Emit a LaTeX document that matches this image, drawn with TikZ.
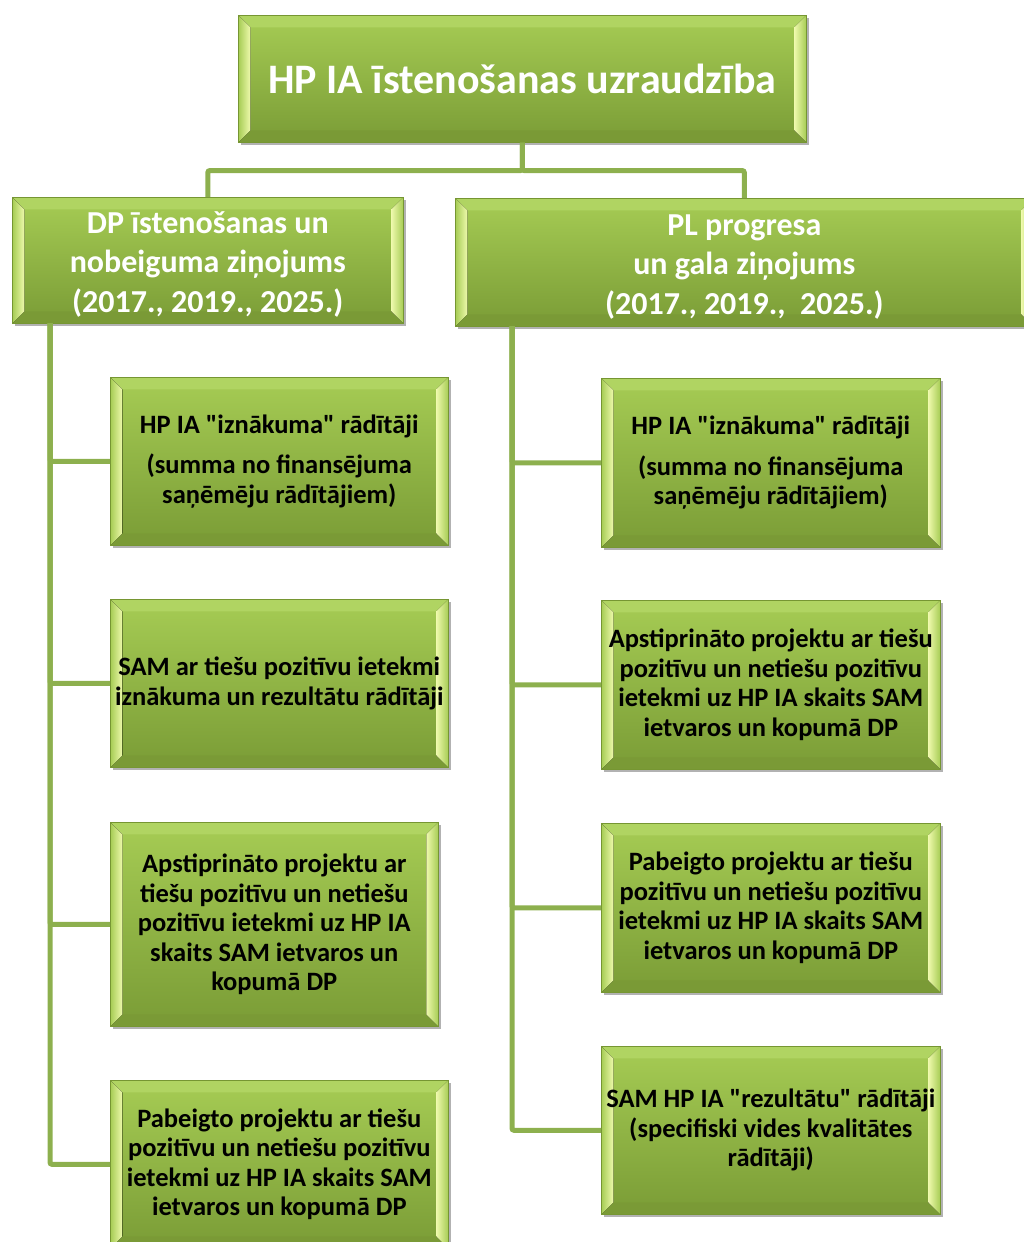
\documentclass[tikz,border=0pt]{standalone}
\usepackage{fontspec}
\setmainfont{Carlito}
\usetikzlibrary{calc,shadows}

\definecolor{boxtop}{RGB}{166,204,84}
\definecolor{boxbot}{RGB}{122,156,54}
\definecolor{boxedge}{RGB}{118,150,50}
\definecolor{bevellight}{RGB}{238,249,172}
\definecolor{beveltop}{RGB}{176,212,98}
\definecolor{bevelbot}{RGB}{122,154,54}
\definecolor{connline}{RGB}{141,176,78}

\tikzset{
	bevel/.style={path picture={
		\path (path picture bounding box.north west) coordinate (pa)
			(path picture bounding box.south east) coordinate (pb);
		\fill[beveltop] (pa) -- (pa-|pb) -- ($(pa-|pb)+(-#1,-#1)$) -- ($(pa)+(#1,-#1)$) -- cycle;
		\fill[bevelbot] (pa|-pb) -- (pb) -- ($(pb)+(-#1,#1)$) -- ($(pa|-pb)+(#1,#1)$) -- cycle;
		\fill[left color=boxtop, right color=bevellight] (pa) -- ($(pa)+(#1,-#1)$) -- ($(pa|-pb)+(#1,#1)$) -- (pa|-pb) -- cycle;
		\fill[left color=bevellight, right color=boxtop] (pa-|pb) -- ($(pa-|pb)+(-#1,-#1)$) -- ($(pb)+(-#1,#1)$) -- (pb) -- cycle;
	}},
	gbox/.style={draw=boxedge, line width=.6pt, top color=boxtop, bottom color=boxbot,
		bevel=12pt, drop shadow={shadow xshift=3pt, shadow yshift=-3pt, opacity=.3, fill=black},
		inner sep=0pt, align=center, anchor=north west},
	headbox/.style 2 args={gbox, text=white, font=\bfseries\fontsize{#1}{#2}\selectfont},
	itembox/.style={gbox, text=black, font=\bfseries\fontsize{26.5}{29.5}\selectfont},
	conn/.style={draw=connline, line width=5pt, rounded corners=2pt}
}
\newcommand{\qt}[1]{\textquotedbl#1\textquotedbl}

\begin{document}
\begin{tikzpicture}[x=1pt, y=-1pt]
	\useasboundingbox (0,0) rectangle (1024,1242);

	\node[headbox={42}{50}, minimum width=568pt, minimum height=127pt] (top) at (238,15) {HP IA īstenošanas uzraudzība};
	\node[headbox={32}{39.5}, minimum width=391pt, minimum height=126pt] (dp) at (12,197) {\rule{0pt}{30pt}DP īstenošanas un\\nobeiguma ziņojums\\(2017., 2019., 2025.)};
	\node[headbox={32}{39.5}, minimum width=578pt, minimum height=128pt] (pl) at (455,198) {\rule{0pt}{30pt}PL progresa\\un gala ziņojums\\(2017., 2019.,\ \ 2025.)};

	\node[itembox, minimum width=338pt, minimum height=168pt] (dpa) at (110,377) {HP IA \qt{iznākuma} rādītāji\\[11pt](summa no finansējuma\\saņēmēju rādītājiem)};
	\node[itembox, minimum width=338pt, minimum height=168pt] (dpb) at (110,599) {SAM ar tiešu pozitīvu ietekmi\\iznākuma un rezultātu rādītāji};
	\node[itembox, minimum width=328pt, minimum height=204pt] (dpc) at (110,822) {Apstiprināto projektu ar\\tiešu pozitīvu un netiešu\\pozitīvu ietekmi uz HP IA\\skaits SAM ietvaros un\\kopumā DP};
	\node[itembox, minimum width=338pt, minimum height=168pt] (dpd) at (110,1080) {Pabeigto projektu ar tiešu\\pozitīvu un netiešu pozitīvu\\ietekmi uz HP IA skaits SAM\\ietvaros un kopumā DP};

	\node[itembox, minimum width=339pt, minimum height=169pt] (pla) at (601,378) {HP IA \qt{iznākuma} rādītāji\\[11pt](summa no finansējuma\\saņēmēju rādītājiem)};
	\node[itembox, minimum width=339pt, minimum height=169pt] (plb) at (601,600) {Apstiprināto projektu ar tiešu\\pozitīvu un netiešu pozitīvu\\ietekmi uz HP IA skaits SAM\\ietvaros un kopumā DP};
	\node[itembox, minimum width=339pt, minimum height=169pt] (plc) at (601,823) {Pabeigto projektu ar tiešu\\pozitīvu un netiešu pozitīvu\\ietekmi uz HP IA skaits SAM\\ietvaros un kopumā DP};
	\node[itembox, minimum width=339pt, minimum height=168pt] (pld) at (601,1046) {SAM HP IA \qt{rezultātu} rādītāji\\(specifiski vides kvalitātes\\rādītāji)};

	\draw[conn] (top.south) -- ++(0,28) -| (dp.north);
	\draw[conn] (top.south) -- ++(0,28) -| (pl.north);

	\coordinate (dptrunk) at (50,323);
	\coordinate (pltrunk) at (512,326);
	\foreach \n in {dpa,dpb,dpc,dpd}
		\draw[conn] (dptrunk) |- (\n.west);
	\foreach \n in {pla,plb,plc,pld}
		\draw[conn] (pltrunk) |- (\n.west);
\end{tikzpicture}
\end{document}
